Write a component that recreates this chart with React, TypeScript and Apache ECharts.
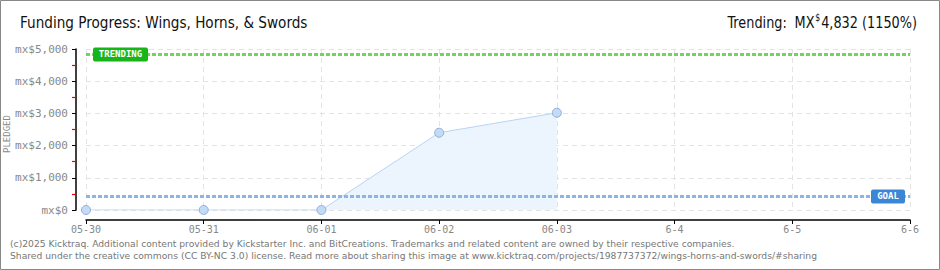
import React, { useEffect, useRef } from "react";
import * as echarts from "echarts";

const dates = ["05-30", "05-31", "06-01", "06-02", "06-03", "6-4", "6-5", "6-6"];
const pledged = [0, 0, 0, 2400, 3020];
const goal = 420;
const trending = 4832;
const trendingPct = 1150;
const titleText = "Funding Progress: Wings, Horns, & Swords";
const footer1 =
  "(c)2025 Kicktraq. Additional content provided by Kickstarter Inc. and BitCreations. Trademarks and related content are owned by their respective companies.";
const footer2 =
  "Shared under the creative commons (CC BY-NC 3.0) license. Read more about sharing this image at www.kicktraq.com/projects/1987737372/wings-horns-and-swords/#sharing";

const fmt = (v: number) => v.toLocaleString("en-US");

export default function App() {
  const ref = useRef<HTMLDivElement>(null);
  useEffect(() => {
    if (!ref.current) return;
    const chart = echarts.init(ref.current, undefined, { renderer: "svg" });
    const titleFont = "'DejaVu Sans', sans-serif";
    const pixFont = "'DejaVu Sans Mono', monospace";
    chart.setOption({
      animation: false,
      backgroundColor: "#fff",
      grid: { left: 86, right: 30, top: 49, bottom: 60 },
      xAxis: {
        type: "category",
        data: dates,
        boundaryGap: false,
        offset: 10,
        axisLine: { onZero: false, lineStyle: { color: "#000", width: 1.5 } },
        axisTick: { show: true, length: 4, lineStyle: { color: "#000" } },
        axisLabel: { color: "#888", fontFamily: pixFont, fontSize: 10, margin: 4 },
        splitLine: { show: true, lineStyle: { color: "#e3e3e3", type: [5, 4] } },
      },
      yAxis: {
        type: "value",
        min: 0,
        max: 5000,
        interval: 1000,
        offset: 10,
        axisLine: { show: true, onZero: false, lineStyle: { color: "#000", width: 1.5 } },
        axisTick: { show: true, length: 4, lineStyle: { color: "#000" } },
        minorTick: { show: true, splitNumber: 2, length: 4, lineStyle: { color: "#e00", width: 1.2 } },
        axisLabel: {
          color: "#888",
          fontFamily: pixFont,
          fontSize: 11,
          margin: 8,
          formatter: (v: number) => "mx$" + fmt(v),
        },
        splitLine: { show: true, lineStyle: { color: "#e3e3e3", type: [5, 4] } },
      },
      series: [
        {
          type: "line",
          data: pledged,
          symbol: "circle",
          symbolSize: 9,
          lineStyle: { color: "#b7d4f3", width: 1 },
          itemStyle: { color: "#c3dbf5", borderColor: "#8fb0d8", borderWidth: 1 },
          areaStyle: { color: "#ecf4fd", opacity: 1 },
          markLine: {
            silent: true,
            symbol: "none",
            label: { show: false },
            data: [
              { yAxis: trending, lineStyle: { color: "#6fd65c", width: 3, type: [4, 2] } },
              { yAxis: goal, lineStyle: { color: "#8db5e3", width: 3, type: [4, 2] } },
            ],
          },
        },
      ],
    });
    const pT = chart.convertToPixel({ xAxisIndex: 0, yAxisIndex: 0 }, [dates[0], trending]);
    const pG = chart.convertToPixel({ xAxisIndex: 0, yAxisIndex: 0 }, [dates[dates.length - 1], goal]);
    chart.setOption({
      graphic: [
        {
          type: "rect",
          shape: { x: 0.5, y: 0.5, width: 939, height: 269 },
          style: { fill: "none", stroke: "#888", lineWidth: 1 },
          silent: true,
        },
        {
          type: "text",
          x: 20,
          y: 23,
          scaleX: 0.825,
          style: { text: titleText, font: `16.5px ${titleFont}`, fill: "#111", verticalAlign: "middle" },
        },
        {
          type: "text",
          x: 917,
          y: 22,
          scaleX: 0.78,
          style: {
            text: `{a|Trending:}{g|}{a|MX}{s|$}{a|${fmt(trending)} (${trendingPct}%)}`,
            align: "right",
            verticalAlign: "middle",
            rich: {
              a: { font: `16.5px ${titleFont}`, fill: "#111" },
              g: { width: 10 },
              s: { font: `10px ${titleFont}`, fill: "#111", verticalAlign: "top", padding: [0, 1, 9, 1] },
            },
          },
        },
        {
          type: "text",
          x: 2,
          y: 153,
          rotation: Math.PI / 2,
          style: { text: "PLEDGED", font: `9px ${pixFont}`, fill: "#888" },
        },
        {
          type: "text",
          x: 10,
          y: 243,
          style: { text: footer1, font: "9.2px 'DejaVu Sans', sans-serif", fill: "#777", verticalAlign: "middle" },
        },
        {
          type: "text",
          x: 10,
          y: 255,
          style: { text: footer2, font: "9.2px 'DejaVu Sans', sans-serif", fill: "#777", verticalAlign: "middle" },
        },
        {
          type: "rect",
          z: 100,
          shape: { x: pT[0] + 7, y: pT[1] - 7, width: 55, height: 14, r: 2 },
          style: { fill: "#17b517" },
        },
        {
          type: "text",
          z: 101,
          x: pT[0] + 34.5,
          y: pT[1],
          style: {
            text: "TRENDING",
            font: `bold 9px ${pixFont}`,
            fill: "#fff",
            align: "center",
            verticalAlign: "middle",
          },
        },
        {
          type: "rect",
          z: 100,
          shape: { x: pG[0] - 39, y: pG[1] - 7, width: 34, height: 14, r: 2 },
          style: { fill: "#3b87d5" },
        },
        {
          type: "text",
          z: 101,
          x: pG[0] - 22,
          y: pG[1],
          style: {
            text: "GOAL",
            font: `bold 9px ${pixFont}`,
            fill: "#fff",
            align: "center",
            verticalAlign: "middle",
          },
        },
      ],
    });
    return () => chart.dispose();
  }, []);
  return (
    <div
      ref={ref}
      style={{ position: "fixed", left: 0, top: 0, width: 940, height: 270 }}
    />
  );
}
